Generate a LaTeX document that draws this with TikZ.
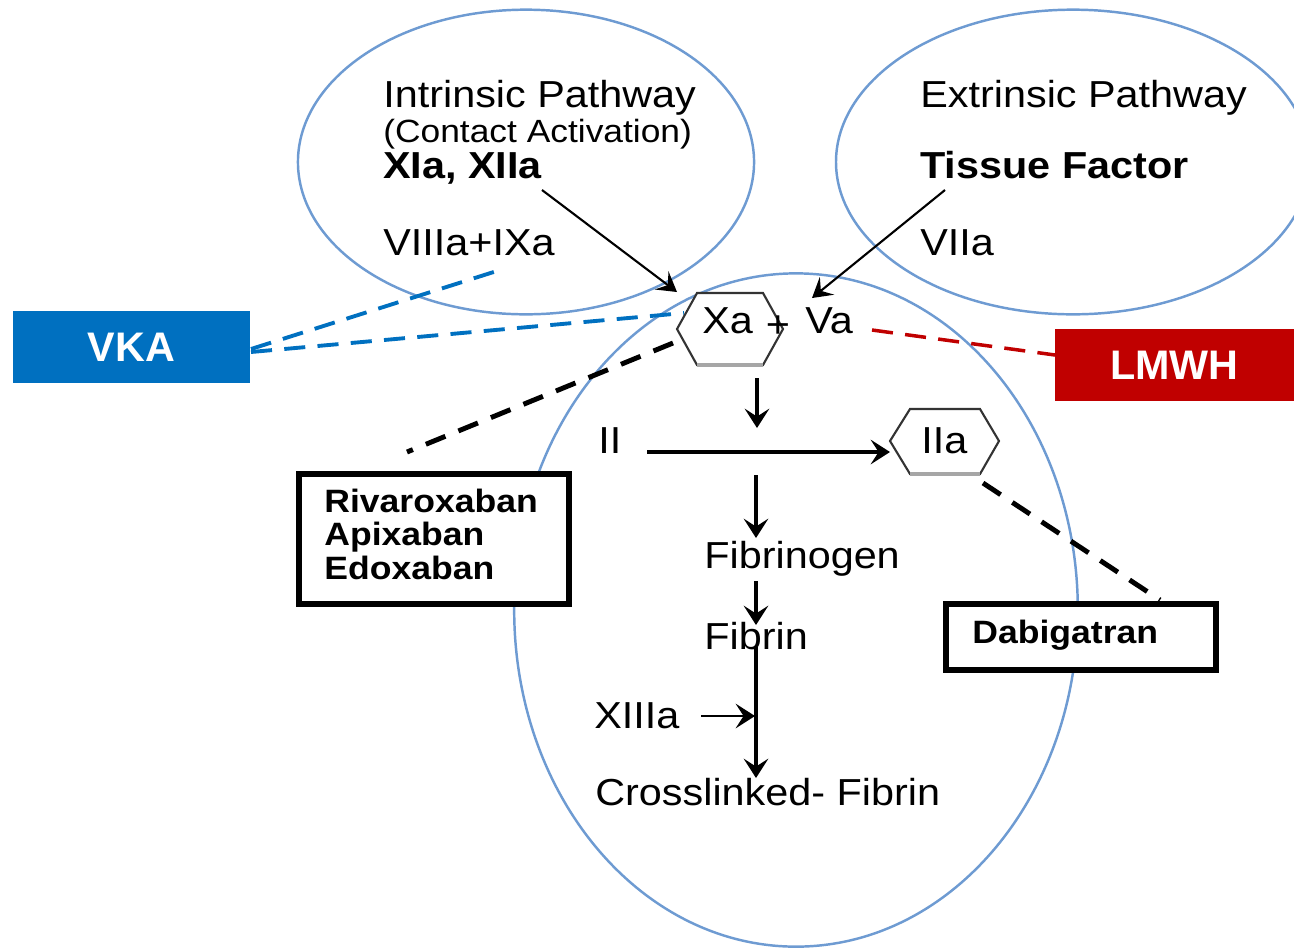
\documentclass[tikz,border=0pt]{standalone}
\usepackage{fontspec}
\setmainfont{Liberation Sans}[FakeStretch=1.1]
\newfontfamily\tagfont{Liberation Sans}
\usetikzlibrary{arrows.meta,calc}
\definecolor{ellblue}{RGB}{110,155,210}
\definecolor{vkablue}{RGB}{0,112,192}
\definecolor{lmwhred}{RGB}{192,0,0}
\newcommand\FontMain{\fontsize{21.4pt}{25pt}\selectfont}
\newcommand\FontSmall{\fontsize{18.3pt}{22pt}\selectfont}
\newcommand\FontDrug{\fontsize{18.4pt}{20pt}\selectfont\bfseries}
\newcommand\FontTag{\tagfont\fontsize{23.5pt}{26pt}\selectfont\bfseries}
\begin{document}
\begin{tikzpicture}[x=0.02cm,y=-0.02cm,
 ell/.style={draw=ellblue,line width=1.4pt},
 txt/.style={anchor=base west,inner sep=0pt,font=\FontMain},
 hexa/.style={draw=black!80,line width=1.2pt,fill=white},
 flow/.style={line width=1.8pt,-{Stealth[length=11pt,width=14pt,inset=4.5pt]}},
 diag/.style={line width=1.2pt,-{Stealth[length=11pt,width=13pt,inset=4.5pt]}},
 drugbox/.style={draw=black,line width=3.4pt,fill=white,inner sep=0pt},
 tagbox/.style={inner sep=0pt,text=white,font=\FontTag},
 bluedash/.style={draw=vkablue,line width=2.2pt,dash pattern=on 12pt off 7pt},
 reddash/.style={draw=lmwhred,line width=2pt,dash pattern=on 12pt off 7pt},
 blackdash/.style={draw=black,line width=2.8pt,dash pattern=on 12pt off 8pt},
]
\useasboundingbox (0,0) rectangle (1294,951);
\clip (0,0) rectangle (1294,951);

% ellipses
\draw[ell] (526,162) ellipse [x radius=129.8pt, y radius=86.7pt];
\draw[ell] (1073,162) ellipse [x radius=134.9pt, y radius=86.7pt];
\draw[ell] (796,610) ellipse [x radius=160.4pt, y radius=191.6pt];

% tag boxes
\node[tagbox,fill=vkablue,minimum width=134.4pt,minimum height=40.8pt] (vka) at (131.5,347) {VKA};
\node[tagbox,fill=lmwhred,minimum width=135.5pt,minimum height=40.8pt] (lmwh) at (1174.5,365) {LMWH};

% dashed connectors
\coordinate (vkaA) at (251,349);
\coordinate (vkaB) at (251,352);
\coordinate (viiiEnd) at (500,270);
\coordinate (xaW) at (684,313);
\coordinate (vaE) at (872,330);
\coordinate (lmwhW) at (1055,355);
\coordinate (xaSW) at (673,343);
\coordinate (rivEnd) at (407,452);
\coordinate (iiaSE) at (983,483);
\coordinate (dabEnd) at (1160,600);
\draw[bluedash] (vkaA) -- (viiiEnd);
\draw[bluedash] (vkaB) -- (xaW);
\draw[reddash] (vaE) -- (lmwhW);
\draw[blackdash] (xaSW) -- (rivEnd);
\draw[blackdash] (iiaSE) -- (dabEnd);

% drug boxes
\node[drugbox,minimum width=154.2pt,minimum height=73.7pt] (riva) at (434,539) {};
\node[drugbox,minimum width=154.2pt,minimum height=37.4pt] (dabi) at (1081,637) {};
\node[txt,font=\FontDrug] (rivT) at (324,512) {Rivaroxaban};
\node[txt,font=\FontDrug] (apiT) at (324,545) {Apixaban};
\node[txt,font=\FontDrug] (edoT) at (324,579) {Edoxaban};
\node[txt,font=\FontDrug] (dabT) at (972,643) {Dabigatran};

% hexagons
\draw[hexa] (677,329) -- (697,293) -- (763,293) -- (783,329) -- (763,365) -- (697,365) -- cycle;
\draw[gray!70,line width=2pt] (697,365) -- (763,365);
\draw[hexa] (890,441) -- (910,409) -- (980,409) -- (999,441) -- (980,474) -- (910,474) -- cycle;
\draw[gray!70,line width=2pt] (910,474) -- (980,474);
\coordinate (hxa) at (730,329);
\coordinate (hiia) at (944,441);

% texts
\node[txt] (intrT) at (383,107) {Intrinsic Pathway};
\node[txt,font=\FontSmall] (contact) at (383,142) {(Contact Activation)};
\node[txt,font=\FontMain\bfseries] (xia) at (383,178) {XIa, XIIa};
\node[txt] (viii) at (383,255) {VIIIa+IXa};
\node[txt] (extT) at (920,107) {Extrinsic Pathway};
\node[txt,font=\FontMain\bfseries] (tf) at (920,178) {Tissue Factor};
\node[txt] (viia) at (920,255) {VIIa};
\node[txt] (xa) at (702,333) {Xa};
\node[inner sep=0pt,font=\FontMain] (plus) at (778,327) {+};
\node[txt] (va) at (805,333) {Va};
\node[txt] (ii) at (598,453) {II};
\node[txt] (iia) at (921,453) {IIa};
\node[txt] (fibg) at (704,568) {Fibrinogen};
\node[txt] (fib) at (704,649) {Fibrin};
\node[txt] (xiii) at (594,728) {XIIIa};
\node[txt] (cross) at (595,805) {Crosslinked- Fibrin};

% arrows
\coordinate (xiaS) at (542,190);
\coordinate (xaNW) at (677,292);
\coordinate (tfS) at (945,190);
\coordinate (vaN) at (812,298);
\draw[diag] (xiaS) -- (xaNW);
\draw[diag] (tfS) -- (vaN);
\coordinate (xaS) at (757,378);
\coordinate (thrN) at (757,428);
\coordinate (iiE) at (647,452);
\coordinate (iiaW) at (890,452);
\coordinate (a1) at (756,475);
\coordinate (fibgN) at (756,538);
\coordinate (fibgS) at (756,581);
\coordinate (fibN) at (756,625);
\coordinate (fibS) at (756,647);
\coordinate (crossN) at (756,778);
\coordinate (xiiiE) at (701,716);
\coordinate (join) at (755,716);
\draw[flow] (xaS) -- (thrN);
\draw[flow] (iiE) -- (iiaW);
\draw[flow] (a1) -- (fibgN);
\draw[flow] (fibgS) -- (fibN);
\draw[flow] (fibS) -- (crossN);
\draw[flow,line width=1.5pt] (xiiiE) -- (join);
\end{tikzpicture}
\end{document}
